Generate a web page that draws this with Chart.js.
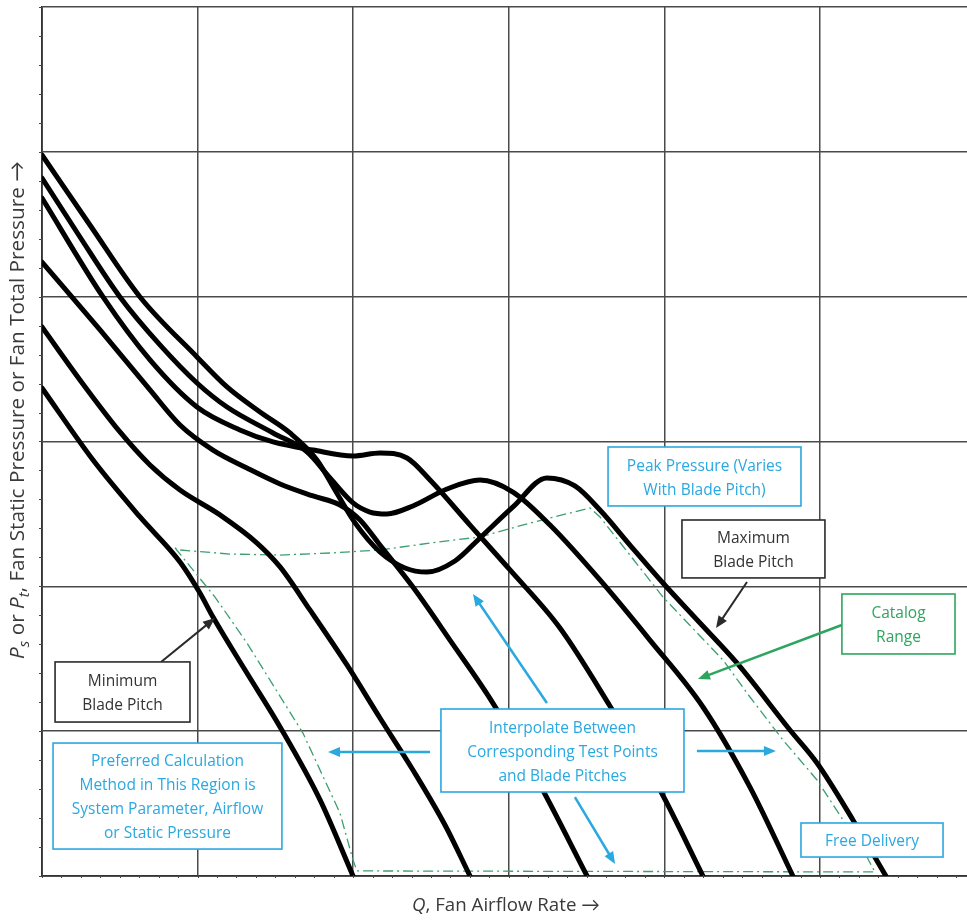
<!DOCTYPE html>
<html><head><meta charset="utf-8">
<script src="https://cdn.jsdelivr.net/npm/chart.js@4.4.1/dist/chart.umd.min.js"></script>
<style>html,body{margin:0;padding:0;background:#fff;overflow:hidden}#wrap{width:967px;height:921px;position:relative}</style>
</head><body><div id="wrap"><canvas id="c"></canvas></div>
<script>
// ---- data (x: airflow in grid units, y: pressure in grid units) ----
const minPitchX = [0, 0.328, 0.630, 0.887, 1.015, 1.099, 1.305, 1.530, 1.787, 1.999];
const minPitchY = [3.369, 2.872, 2.479, 2.168, 1.954, 1.788, 1.422, 1.029, 0.525, 0];

const pitch2X = [0, 0.244, 0.501, 0.694, 0.887, 1.144, 1.382, 1.530, 1.722, 1.960, 2.172, 2.384, 2.590, 2.751];
const pitch2Y = [3.791, 3.425, 3.066, 2.838, 2.665, 2.493, 2.299, 2.134, 1.837, 1.457, 1.091, 0.732, 0.352, 0];

const pitch3X = [0, 0.373, 0.694, 0.887, 1.099, 1.317, 1.530, 1.742, 1.915, 2.044, 2.172, 2.384, 2.622, 2.898, 3.201, 3.503];
const pitch3Y = [4.239, 3.770, 3.356, 3.114, 2.941, 2.817, 2.707, 2.624, 2.562, 2.458, 2.285, 1.995, 1.629, 1.194, 0.628, 0];

const pitch4X = [0, 0.392, 0.694, 0.996, 1.272, 1.485, 1.742, 1.999, 2.172, 2.346, 2.494, 2.751, 3.008, 3.329, 3.650, 3.972, 4.248];
const pitch4Y = [4.681, 3.998, 3.563, 3.238, 3.080, 2.997, 2.941, 2.900, 2.921, 2.886, 2.734, 2.423, 2.113, 1.712, 1.174, 0.594, 0];

const pitch5X = [0, 0.244, 0.501, 0.758, 0.996, 1.189, 1.485, 1.703, 1.851, 1.999, 2.108, 2.217, 2.384, 2.603, 2.815, 3.027, 3.265, 3.586, 3.907, 4.248, 4.550, 4.826];
const pitch5Y = [4.819, 4.412, 3.998, 3.667, 3.404, 3.238, 3.059, 2.928, 2.748, 2.576, 2.513, 2.500, 2.555, 2.672, 2.734, 2.651, 2.423, 2.044, 1.629, 1.167, 0.614, 0];

const maxPitchX = [0, 0.308, 0.630, 0.996, 1.189, 1.401, 1.594, 1.767, 1.883, 2.012, 2.172, 2.333, 2.474, 2.654, 2.815, 3.027, 3.245, 3.425, 3.586, 3.779, 3.991, 4.229, 4.466, 4.807, 4.981, 5.212, 5.424];
const maxPitchY = [4.978, 4.495, 3.998, 3.584, 3.377, 3.204, 3.059, 2.873, 2.665, 2.438, 2.237, 2.127, 2.099, 2.175, 2.334, 2.548, 2.748, 2.693, 2.527, 2.285, 2.023, 1.747, 1.471, 1.008, 0.780, 0.387, 0];

const catalogX = [0.855, 1.112, 1.317, 1.677, 1.915, 1.999, 2.024, 5.353, 5.302, 5.148, 4.981, 4.762, 4.550, 4.377, 3.991, 3.586, 3.522, 3.136, 2.815, 2.494, 2.172, 1.851, 1.530, 1.208, 0.887, 0.855];
const catalogY = [2.265, 1.926, 1.609, 0.987, 0.435, 0.110, 0.035, 0.028, 0.131, 0.387, 0.663, 0.939, 1.236, 1.491, 1.926, 2.479, 2.541, 2.437, 2.341, 2.299, 2.251, 2.230, 2.216, 2.223, 2.251, 2.265];

const xGridTicks = [0, 1, 2, 3, 4, 5];
const yGridTicks = [0, 1, 2, 3, 4, 5, 6];

// ---- annotations (in chart units) ----
const BLUE = '#2aa8e0', GREEN = '#2ea55e', DARK = '#2a2a2a';
const noteBoxes = [
  {x1:3.638, y1:2.962, x2:4.878, y2:2.555, color:BLUE, text:['Peak Pressure (Varies','With Blade Pitch)']},
  {x1:4.113, y1:2.458, x2:5.032, y2:2.058, color:DARK, text:['Maximum','Blade Pitch']},
  {x1:5.141, y1:1.947, x2:5.868, y2:1.533, color:GREEN, text:['Catalog','Range']},
  {x1:0.084, y1:1.478, x2:0.951, y2:1.063, color:DARK, text:['Minimum','Blade Pitch']},
  {x1:0.071, y1:0.918, x2:1.542, y2:0.186, color:BLUE, text:['Preferred Calculation','Method in This Region is','System Parameter, Airflow','or Static Pressure']},
  {x1:2.564, y1:1.153, x2:4.126, y2:0.580, color:BLUE, text:['Interpolate Between','Corresponding Test Points','and Blade Pitches']},
  {x1:4.878, y1:0.366, x2:5.791, y2:0.131, color:BLUE, text:['Free Delivery']}
];
const noteArrows = [
  {x1:4.531, y1:2.030, x2:4.332, y2:1.712, color:DARK, w:2},
  {x1:0.765, y1:1.478, x2:1.112, y2:1.781, color:DARK, w:2},
  {x1:5.141, y1:1.733, x2:4.216, y2:1.360, color:GREEN, w:2.5},
  {x1:3.245, y1:1.194, x2:2.770, y2:1.947, color:BLUE, w:2.5},
  {x1:2.494, y1:0.856, x2:1.838, y2:0.856, color:BLUE, w:2.5},
  {x1:4.209, y1:0.863, x2:4.717, y2:0.863, color:BLUE, w:2.5},
  {x1:3.425, y1:0.545, x2:3.683, y2:0.083, color:BLUE, w:2.5}
];

const FONT = '"Open Sans", Lato, sans-serif';

function curve(label, xs, ys) {
  return {label, data: xs.map((x,i)=>({x, y: ys[i]})), showLine:true, pointRadius:0,
    borderColor:'#000', borderWidth:5, cubicInterpolationMode:'monotone', fill:false, order:0,
    borderCapStyle:'round', borderJoinStyle:'round'};
}

function drawArrow(ctx, x1, y1, x2, y2, color, w) {
  const ang = Math.atan2(y2-y1, x2-x1), L = 12, H = 5;
  ctx.strokeStyle = color; ctx.fillStyle = color; ctx.lineWidth = w;
  ctx.beginPath(); ctx.moveTo(x1,y1);
  ctx.lineTo(x2 - Math.cos(ang)*L*0.8, y2 - Math.sin(ang)*L*0.8); ctx.stroke();
  ctx.beginPath(); ctx.moveTo(x2,y2);
  ctx.lineTo(x2 - Math.cos(ang)*L + Math.sin(ang)*H, y2 - Math.sin(ang)*L - Math.cos(ang)*H);
  ctx.lineTo(x2 - Math.cos(ang)*L - Math.sin(ang)*H, y2 - Math.sin(ang)*L + Math.cos(ang)*H);
  ctx.closePath(); ctx.fill();
}

function drawRuns(ctx, runs, size, color, targetW) {
  const measure = sz => { let tot = 0; runs.forEach(r => { const fs = r.sub ? sz*0.72 : sz;
    ctx.font = (r.it ? 'italic ' : '') + fs + 'px ' + FONT; tot += ctx.measureText(r.t).width; }); return tot; };
  if (targetW) size = size * targetW / measure(size);
  const total = measure(size);
  let cx = -total/2;
  ctx.fillStyle = color; ctx.textBaseline = 'middle'; ctx.textAlign = 'left';
  runs.forEach(r => { const fs = r.sub ? size*0.72 : size;
    ctx.font = (r.it ? 'italic ' : '') + fs + 'px ' + FONT;
    ctx.fillText(r.t, cx, r.sub ? size*0.32 : 0); cx += ctx.measureText(r.t).width; });
}

const overlay = {
  id: 'overlay',
  afterDatasetsDraw(chart) {
    const {ctx, scales:{x, y}} = chart;
    const X = v => x.getPixelForValue(v), Y = v => y.getPixelForValue(v);
    ctx.save();
    noteArrows.forEach(a => drawArrow(ctx, X(a.x1), Y(a.y1), X(a.x2), Y(a.y2), a.color, a.w));
    noteBoxes.forEach(b => {
      const l = X(b.x1), t = Y(b.y1), r = X(b.x2), btm = Y(b.y2);
      ctx.fillStyle = '#fff'; ctx.fillRect(l, t, r-l, btm-t);
      ctx.strokeStyle = b.color; ctx.lineWidth = 1.6; ctx.strokeRect(l, t, r-l, btm-t);
      ctx.fillStyle = b.color === DARK ? '#333' : b.color;
      ctx.font = '15.5px ' + FONT; ctx.textAlign = 'center'; ctx.textBaseline = 'middle';
      const lh = 24, cy = (t+btm)/2 + 2, n = b.text.length;
      b.text.forEach((s,i) => ctx.fillText(s, (l+r)/2, cy + (i-(n-1)/2)*lh));
    });
    ctx.restore();
  },
  afterDraw(chart) {
    const {ctx, scales:{x, y}, chartArea:ca} = chart;
    ctx.save();
    // minor ticks
    ctx.strokeStyle = '#444'; ctx.lineWidth = 1;
    for (let v = 0; v <= 6.001; v += 0.2) { const py = Math.round(y.getPixelForValue(v)) + 0.5;
      ctx.beginPath(); ctx.moveTo(ca.left-3, py); ctx.lineTo(ca.left, py); ctx.stroke(); }
    for (let v = 0; v <= x.max; v += 0.125) { const px = Math.round(x.getPixelForValue(v)) + 0.5;
      ctx.beginPath(); ctx.moveTo(px, ca.bottom-1); ctx.lineTo(px, ca.bottom+2); ctx.stroke(); }
    // axis titles
    ctx.translate(18, 410); ctx.rotate(-Math.PI/2);
    drawRuns(ctx, [{t:'P',it:true},{t:'s',it:true,sub:true},{t:' or '},{t:'P',it:true},{t:'t',it:true,sub:true},{t:', Fan Static Pressure or Fan Total Pressure \u2192'}], 18, '#3a3a3a', 498);
    ctx.setTransform(1,0,0,1,0,0);
    ctx.translate(506, 906);
    drawRuns(ctx, [{t:'Q',it:true},{t:', Fan Airflow Rate \u2192'}], 18, '#3a3a3a', 188);
    ctx.restore();
  }
};

new Chart(document.getElementById('c'), {
  type: 'scatter',
  data: { datasets: [
    curve('Maximum Blade Pitch', maxPitchX, maxPitchY),
    curve('Pitch 5', pitch5X, pitch5Y),
    curve('Pitch 4', pitch4X, pitch4Y),
    curve('Pitch 3', pitch3X, pitch3Y),
    curve('Pitch 2', pitch2X, pitch2Y),
    curve('Minimum Blade Pitch', minPitchX, minPitchY),
    {label:'Catalog Range', data: catalogX.map((x,i)=>({x, y: catalogY[i]})), showLine:true, pointRadius:0,
      borderColor:'#3c9f6e', borderWidth:1.3, borderDash:[10,4,2,4], tension:0, fill:false, order:1}
  ]},
  options: {
    responsive:true, maintainAspectRatio:false, animation:false,
    layout:{padding:{left:42, top:7, right:0, bottom:45}},
    plugins:{legend:{display:false}, tooltip:{enabled:false}},
    scales:{
      x:{type:'linear', min:0, max:5.945,
        afterBuildTicks: s => { s.ticks = xGridTicks.map(v=>({value:v})); },
        ticks:{display:false}, grid:{color:'#4a4a4a', lineWidth:1.5, drawTicks:false},
        border:{display:true, color:'#333', width:1.8}},
      y:{type:'linear', min:0, max:6,
        afterBuildTicks: s => { s.ticks = yGridTicks.map(v=>({value:v})); },
        ticks:{display:false}, grid:{color:'#4a4a4a', lineWidth:1.5, drawTicks:false},
        border:{display:true, color:'#333', width:1.8}}
    }
  },
  plugins:[overlay]
});
</script>
</body></html>
